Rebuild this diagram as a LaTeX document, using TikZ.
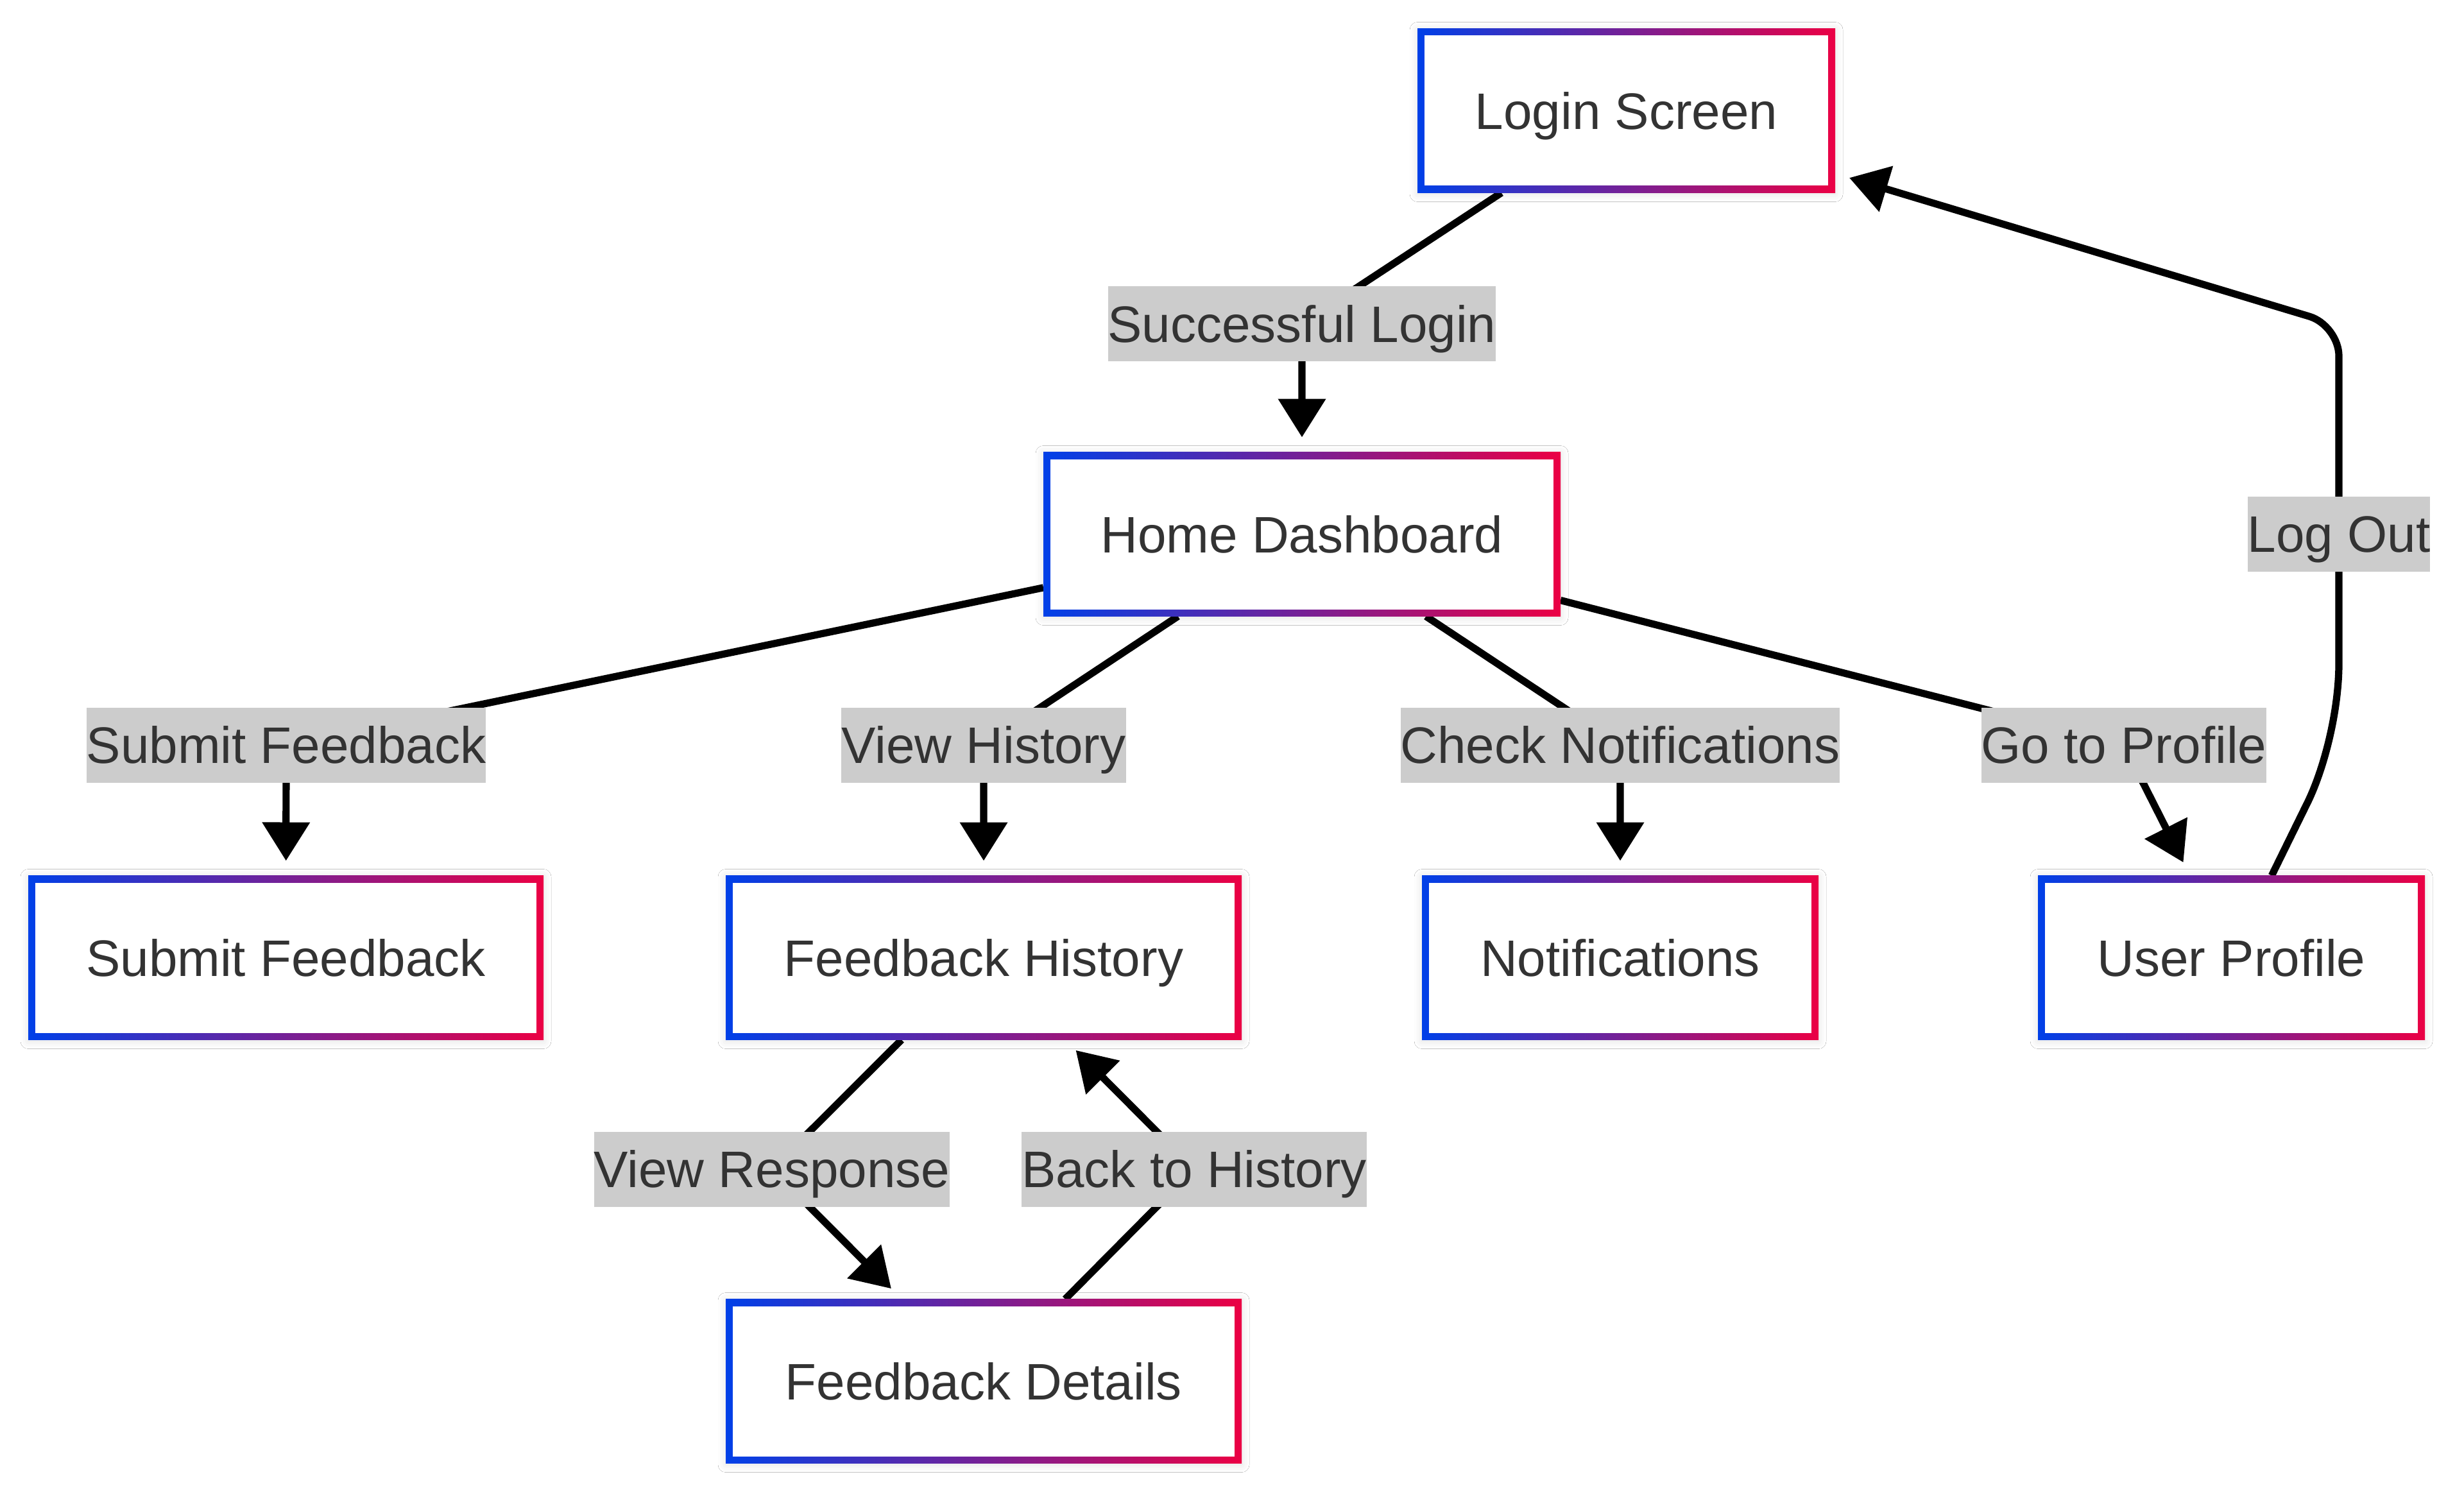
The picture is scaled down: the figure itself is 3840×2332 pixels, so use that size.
\documentclass[tikz,border=0pt]{standalone}
\usepackage{fontspec}
\setmainfont{Liberation Sans}
\usetikzlibrary{arrows.meta,calc,shadows.blur,backgrounds}
\definecolor{txt}{RGB}{51,51,51}
\definecolor{gblue}{RGB}{0,64,232}
\definecolor{gred}{RGB}{235,0,68}
\definecolor{lblbg}{RGB}{204,204,204}
\tikzset{
  screen/.style={rectangle, minimum height=64pt, inner sep=0pt, outer sep=0pt, text=txt,
    font=\fontsize{20}{24}\selectfont, text height=14.3pt, text depth=0pt, fill=white,
    blur shadow={shadow xshift=0pt, shadow yshift=-0.5pt, shadow blur radius=3pt, shadow opacity=12},
    path picture={
      \shade[left color=gblue, right color=gred] (path picture bounding box.south west) rectangle (path picture bounding box.north east);
      \fill[white] ([shift={(2.75pt,2.75pt)}]path picture bounding box.south west) rectangle ([shift={(-2.75pt,-2.75pt)}]path picture bounding box.north east);
    }},
  elabel/.style={rectangle, fill=lblbg, inner xsep=0pt, inner ysep=0pt, minimum height=29.25pt,
    text=txt, font=\fontsize{20}{24}\selectfont, text height=14.3pt, text depth=0pt, outer sep=0pt},
  edge/.style={line width=2.8pt, black},
  arrowedge/.style={edge, -{Triangle[length=15pt,width=18pt]}, shorten >=5.75pt},
}
\begin{document}
\begin{tikzpicture}[x=0.25pt,y=-0.25pt]
\useasboundingbox (0,0) rectangle (3840,2332);
% screens
\node[screen, minimum width=162.75pt] (login) at (2534.5,172.5) {Login Screen};
\node[screen, minimum width=201.5pt] (home) at (2029,832.5) {Home Dashboard};
\node[screen, minimum width=200.75pt] (submit) at (445.5,1492.5) {Submit Feedback};
\node[screen, minimum width=201pt] (history) at (1533,1492.5) {Feedback History};
\node[screen, minimum width=154.5pt] (notif) at (2525,1492.5) {Notifications};
\node[screen, minimum width=150.75pt] (user) at (3477.5,1492.5) {User Profile};
\node[screen, minimum width=201pt] (details) at (1533,2152.5) {Feedback Details};
% edge labels
\node[elabel] (l1) at (2029,504.5) {Successful Login};
\node[elabel] (l2) at (446,1161) {Submit Feedback};
\node[elabel] (l3) at (1533,1161) {View History};
\node[elabel] (l4) at (2525,1161) {Check Notifications};
\node[elabel] (l5) at (3310,1161) {Go to Profile};
\node[elabel] (l6) at (3645,832) {Log Out};
\node[elabel] (l7) at (1203,1822) {View Response};
\node[elabel] (l8) at (1861,1822) {Back to History};
% helper coordinates for the Log Out connector
\coordinate (lo1) at (3594,1255);
\coordinate (lo2) at (3621,1202);
\coordinate (lo3) at (3645,1110);
\coordinate (lo4) at (3645,1033);
\coordinate (lo5) at (3645,507);
\begin{scope}[on background layer]
\fill[white] (0,0) rectangle (3840,2332);
\draw[arrowedge] (login) -- (l1.center) -- (home);
\draw[arrowedge] (home) -- (l2.center) -- (submit);
\draw[arrowedge] (home) -- (l3.center) -- (history);
\draw[arrowedge] (home) -- (l4.center) -- (notif);
\draw[arrowedge] (home) -- (l5.center) -- (user);
\draw[arrowedge] (history) -- (l7.center) -- (details);
\draw[arrowedge] (details) -- (l8.center) -- (history);
\draw[arrowedge] (user) -- (lo1) .. controls (lo2) and (lo3) .. (lo4) -- (l6.center) [rounded corners=12pt] -- (lo5) -- (login);
\end{scope}
\end{tikzpicture}
\end{document}
